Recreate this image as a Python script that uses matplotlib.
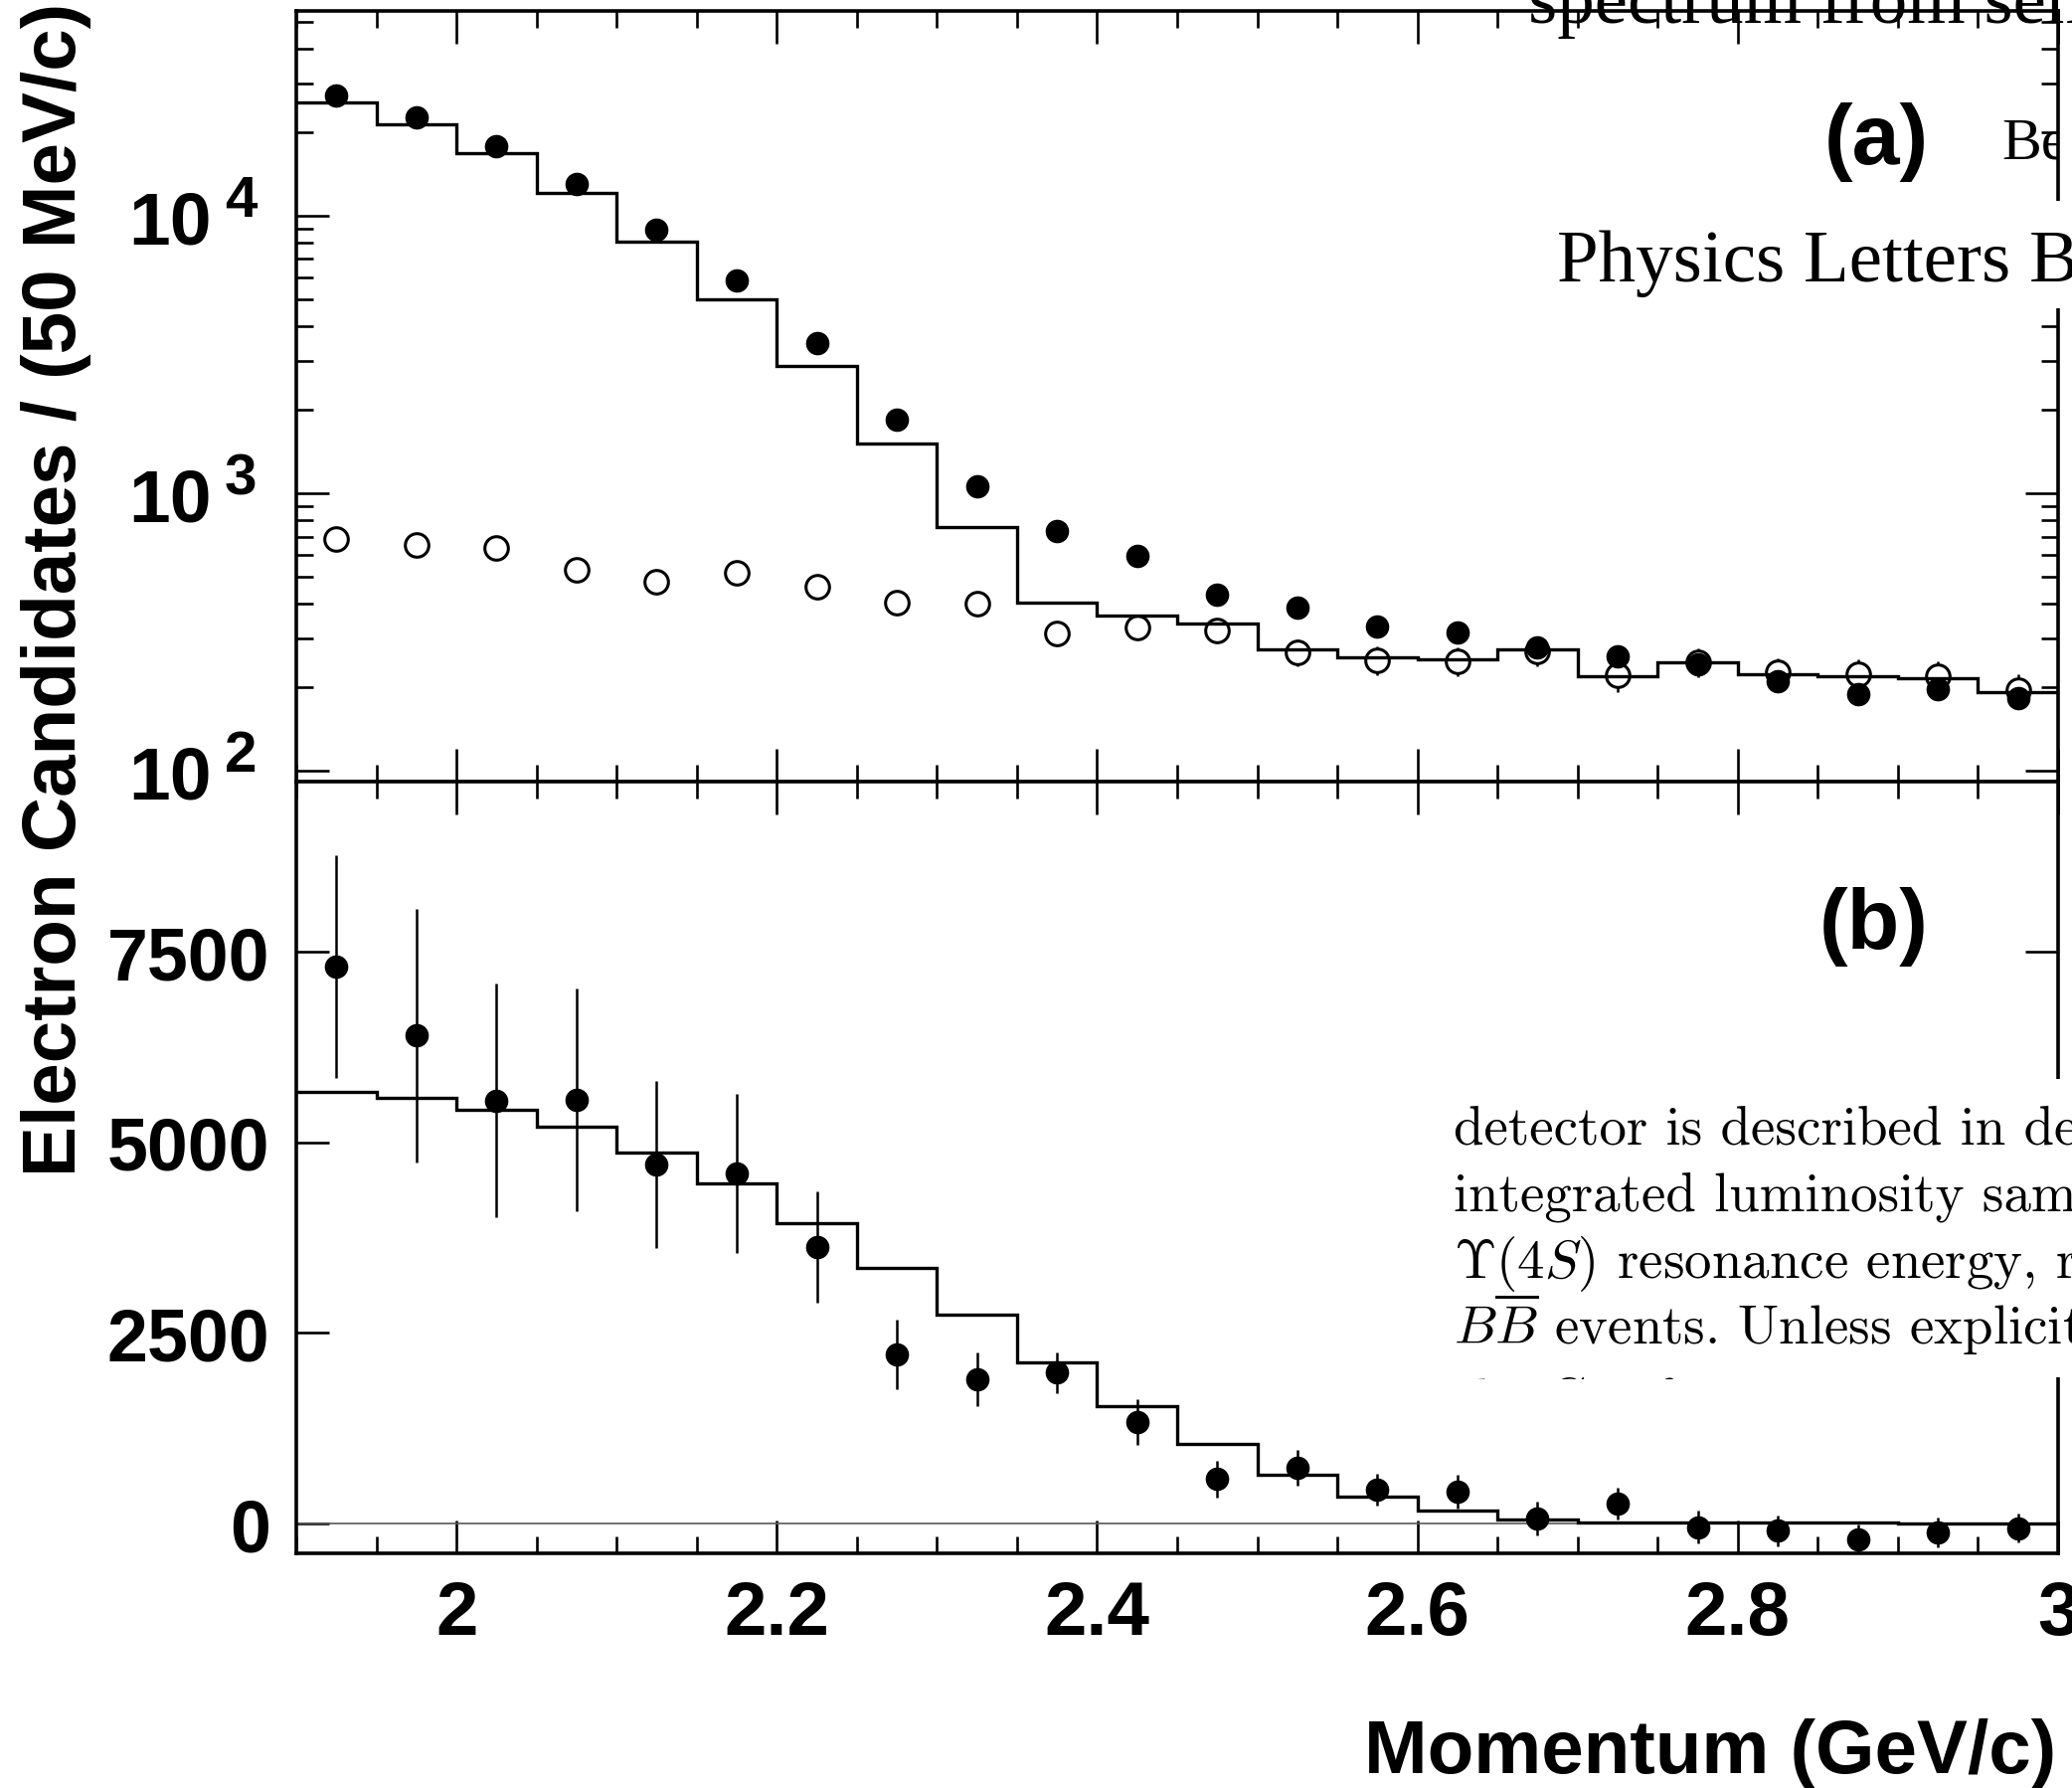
import numpy as np
import matplotlib.pyplot as plt
from matplotlib.patches import Rectangle
from matplotlib.ticker import MultipleLocator, LogLocator, NullFormatter, FuncFormatter, FixedLocator
from matplotlib.transforms import blended_transform_factory

plt.rcParams['font.family'] = ['Liberation Sans', 'DejaVu Sans']
plt.rcParams['font.weight'] = 'bold'
plt.rcParams['mathtext.fontset'] = 'cm'

# ---- momentum binning (50 MeV/c) ----
edges = np.linspace(1.9, 3.0, 23)
centers = 0.5 * (edges[:-1] + edges[1:])

# ---- (a) ON resonance, scaled continuum, expected total ----
on_res = [27200, 22600, 17800, 13100, 8960, 5850, 3490, 1840, 1060, 733, 596,
          432, 389, 332, 315, 280, 259, 242, 210, 190, 198, 183]
on_res_err = [165, 150, 133, 115, 95, 76, 59, 43, 33, 27, 24,
              21, 20, 18, 18, 17, 16, 16, 14, 14, 14, 14]
continuum = [684, 653, 639, 529, 481, 517, 461, 406, 400, 314, 330,
             321, 268, 251, 249, 270, 221, 247, 226, 223, 220, 195]
continuum_err = [45, 44, 43, 39, 37, 38, 36, 34, 34, 28, 29,
                 28, 30, 30, 30, 31, 29, 30, 29, 29, 29, 28]
expected_a = [25700, 21400, 16900, 12100, 8070, 5020, 2880, 1520, 754, 404, 363,
              339, 274, 256, 252, 274, 220, 247, 224, 220, 216, 193]

# ---- (b) continuum subtracted yield and expectation ----
subtracted = [7300, 6400, 5550, 5560, 4710, 4590, 3630, 2220, 1890, 1980, 1330,
              585, 733, 441, 419, 61, 257, -48, -96, -205, -118, -61]
subtracted_err = [1460, 1660, 1530, 1460, 1090, 1040, 730, 460, 350, 270, 300,
                  240, 235, 207, 223, 222, 207, 212, 198, 190, 196, 186]
expected_b = [5660, 5580, 5430, 5200, 4870, 4460, 3940, 3350, 2740, 2120, 1545,
              1043, 643, 356, 165, 56, 18, 14, 11, 9, 7, 6]

fig = plt.figure(figsize=(20.84, 17.99), dpi=100)
ax_a = fig.add_axes([0.1430, 0.5625, 0.8503, 0.4310])
ax_b = fig.add_axes([0.1430, 0.1312, 0.8503, 0.4313])

for ax in (ax_a, ax_b):
    ax.set_xlim(1.9, 3.0)
    ax.xaxis.set_major_locator(MultipleLocator(0.2))
    ax.xaxis.set_minor_locator(MultipleLocator(0.05))
    ax.tick_params(which='both', direction='in', top=True, right=True,
                   width=1.9, color='black')
    ax.tick_params(which='major', length=24)
    ax.tick_params(which='minor', length=12)
    for s in ax.spines.values():
        s.set_linewidth(2.6)

# --- panel (a) ---
ax_a.set_yscale('log')
ax_a.set_ylim(91.5, 55000)
ax_a.yaxis.set_major_locator(FixedLocator([1e2, 1e3, 1e4]))
ax_a.yaxis.set_minor_locator(LogLocator(base=10, subs=np.arange(2, 10)))
ax_a.yaxis.set_minor_formatter(NullFormatter())
ax_a.yaxis.set_major_formatter(FuncFormatter(lambda v, p: '10'))
ax_a.tick_params(axis='x', labelbottom=False)
ax_a.tick_params(axis='y', labelsize=54, pad=61)

trans = blended_transform_factory(ax_a.transAxes, ax_a.transData)
for k in (2, 3, 4):
    ax_a.text(-0.0406, 10 ** k, str(k), transform=trans, ha='left', va='baseline',
              fontsize=42, fontweight='bold', clip_on=False)

ax_a.errorbar(centers, continuum, yerr=continuum_err, fmt='o', ms=17, mfc='white',
              mec='black', mew=2.2, ecolor='black', elinewidth=1.8, capsize=0, zorder=2)
ax_a.stairs(expected_a, edges, baseline=None, color='black', lw=2.4, zorder=3)
ax_a.errorbar(centers, on_res, yerr=on_res_err, fmt='o', ms=16, color='black',
              elinewidth=1.8, capsize=0, zorder=4)

# --- panel (b) ---
ax_b.set_ylim(-390, 9730)
ax_b.yaxis.set_major_locator(FixedLocator([0, 2500, 5000, 7500]))
ax_b.xaxis.set_major_formatter(FuncFormatter(lambda v, p: f'{v:g}'))
ax_b.tick_params(axis='x', labelsize=55, pad=19)
ax_b.tick_params(axis='y', labelsize=53, pad=19)

ax_b.axhline(0, color='0.35', lw=1.2)
ax_b.stairs(expected_b, edges, baseline=None, color='black', lw=2.4, zorder=3)
ax_b.errorbar(centers, subtracted, yerr=subtracted_err, fmt='o', ms=16,
              color='black', elinewidth=1.8, capsize=0, zorder=4)

# labels
fig.text(1940 / 2084, 0.9205, '(a)', ha='right', va='center', fontsize=62, fontweight='bold')
fig.text(1940 / 2084, 0.482, '(b)', ha='right', va='center', fontsize=62, fontweight='bold')
fig.text(2068 / 2084, 1 - 1783 / 1799, 'Momentum (GeV/c)', ha='right', va='baseline',
         fontsize=55, fontweight='bold')
fig.text(57 / 2084, 1 - 1183 / 1799, 'Electron Candidates / (50 MeV/c)', rotation=90,
         ha='center', va='bottom', fontsize=55, fontweight='bold')

# page text around the figure
serif = ['Liberation Serif', 'DejaVu Serif']
fig.add_artist(Rectangle((0.7438, 0.8271), 0.3, 0.0601, transform=fig.transFigure,
                         facecolor='white', edgecolor='none', zorder=2))
fig.add_artist(Rectangle((0.691, 0.2296), 0.35, 0.1667, transform=fig.transFigure,
                         facecolor='white', edgecolor='none', zorder=2))

fig.text(1537 / 2084, 1 - 23 / 1799, 'spectrum from semileptonic', family=serif,
         fontweight='normal', fontsize=54, va='baseline', ha='left')
fig.text(1566 / 2084, 1 - 283 / 1799, 'Physics Letters B', family=serif,
         fontweight='normal', fontsize=54, va='baseline', ha='left')
ax_a.text(2013 / 2084, 1 - 160 / 1799, 'Belle', family=serif, fontweight='normal',
          fontsize=43, va='baseline', ha='left', transform=fig.transFigure, clip_on=True)

body = ['detector is described in detail elsewhere',
        'integrated luminosity sample of',
        r'$\Upsilon(4S)$ resonance energy, recorded',
        r'$B\overline{B}$ events. Unless explicitly stated']
for i, line in enumerate(body):
    fig.text(1462 / 2084, 1 - (1151 + 67 * i) / 1799, line, family='cmr10',
             fontweight='normal', fontsize=39.5, va='baseline', ha='left')
cut = fig.text(1462 / 2084, 1 - 1425 / 1799, 'the CM frame', family='cmr10',
               fontweight='normal', fontsize=39.5, va='baseline', ha='left')
cut.set_clip_path(Rectangle((0, 1 - 1388 / 1799), 1, 1, transform=fig.transFigure))

fig.savefig('out.png', dpi=100, facecolor='white')
